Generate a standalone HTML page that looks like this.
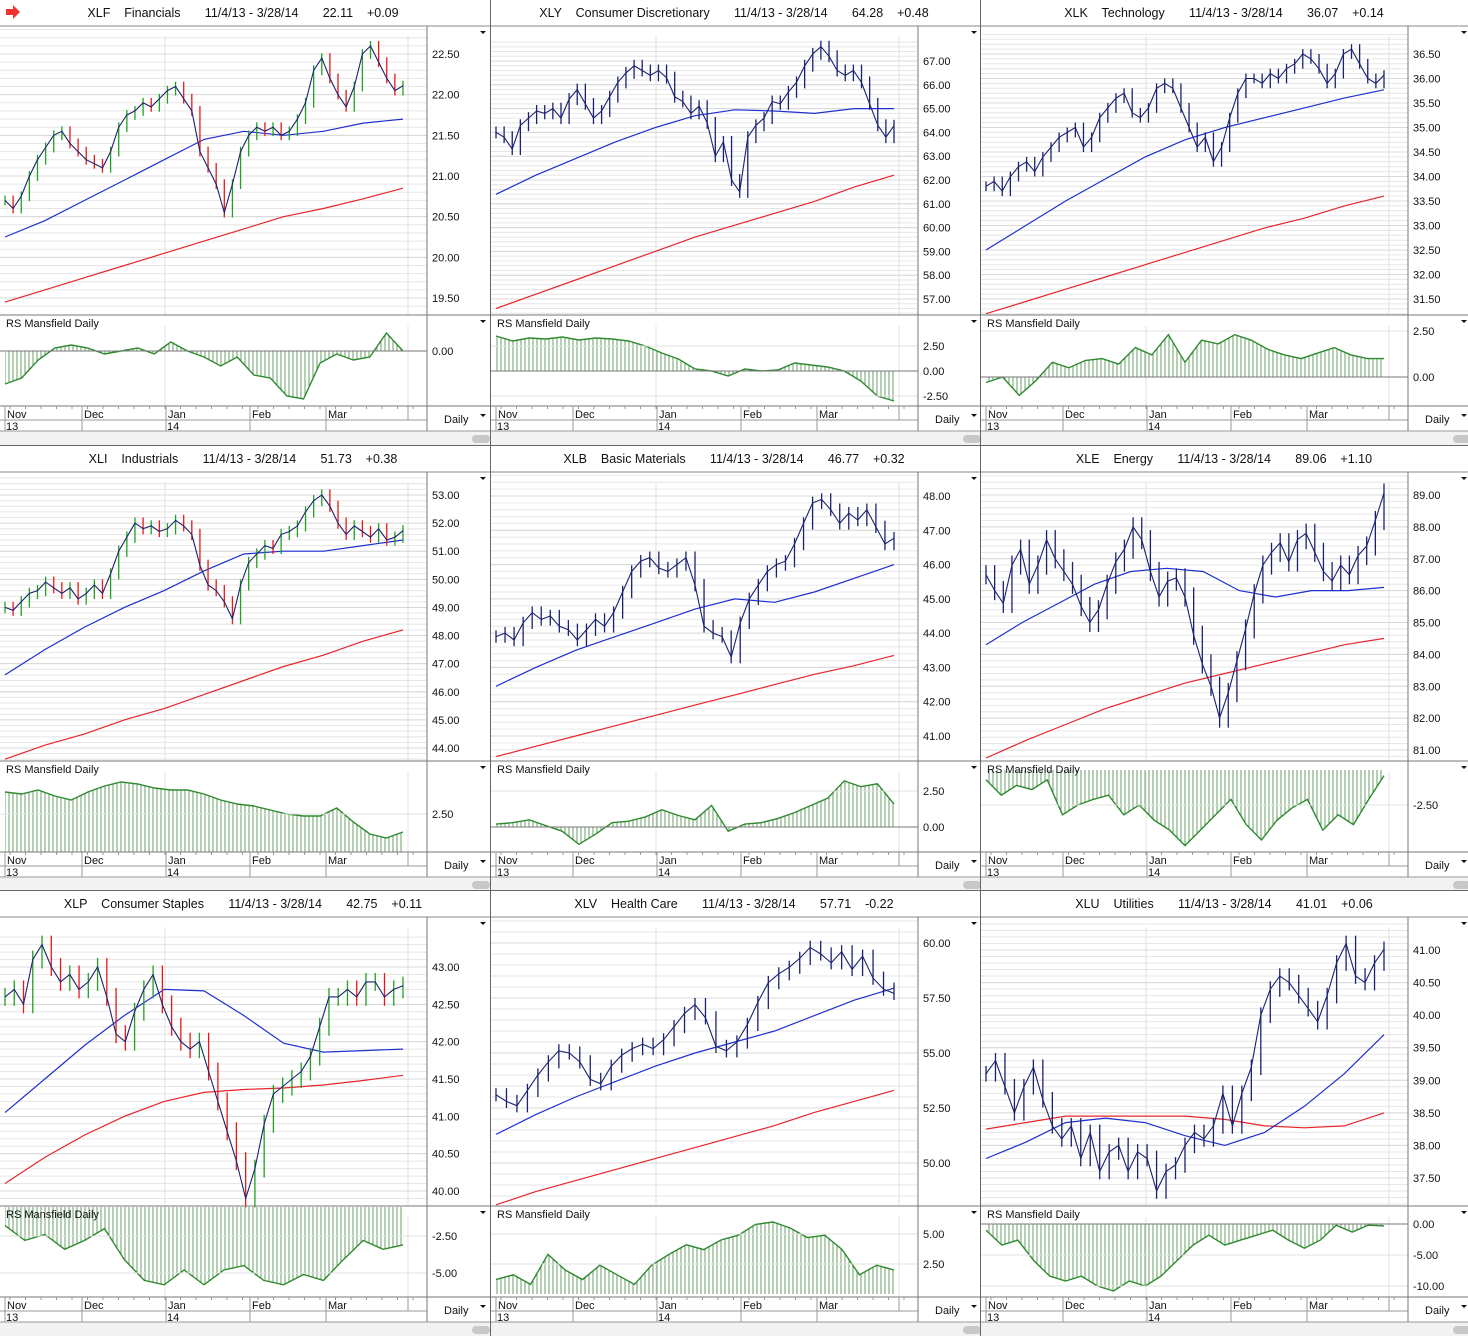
<!DOCTYPE html>
<html><head><meta charset="utf-8">
<style>
html,body{margin:0;padding:0;background:#fff;}
svg{display:block;font-family:"Liberation Sans",sans-serif;}
.ttl{white-space:pre;}
</style></head>
<body>
<svg id="chart" width="1468" height="1336" xmlns="http://www.w3.org/2000/svg">
<defs>
<pattern id="vh" width="4" height="10" patternUnits="userSpaceOnUse"><line x1="1" y1="0" x2="1" y2="10" stroke="#6a9f6a" stroke-width="1"/></pattern>
</defs>
</svg>
<script>
// ---- data ----
const months = ["Nov","Dec","Jan","Feb","Mar"];
const years = ["13","14"];
const titles = [
 "XLF    Financials       11/4/13 - 3/28/14       22.11    +0.09",
 "XLY    Consumer Discretionary       11/4/13 - 3/28/14       64.28    +0.48",
 "XLK    Technology       11/4/13 - 3/28/14       36.07    +0.14",
 "XLI    Industrials       11/4/13 - 3/28/14       51.73    +0.38",
 "XLB    Basic Materials       11/4/13 - 3/28/14       46.77    +0.32",
 "XLE    Energy       11/4/13 - 3/28/14       89.06    +1.10",
 "XLP    Consumer Staples       11/4/13 - 3/28/14       42.75    +0.11",
 "XLV    Health Care       11/4/13 - 3/28/14       57.71    -0.22",
 "XLU    Utilities       11/4/13 - 3/28/14       41.01    +0.06"];

const xlfClose=[20.7,20.6,20.75,21.0,21.2,21.35,21.5,21.55,21.4,21.3,21.2,21.15,21.1,21.3,21.6,21.75,21.8,21.9,21.85,21.95,22.05,22.1,21.95,21.8,21.3,21.1,20.9,20.55,20.9,21.3,21.5,21.6,21.55,21.6,21.5,21.55,21.7,21.9,22.3,22.45,22.2,22.0,21.85,22.1,22.5,22.6,22.4,22.2,22.05,22.11];
const xlfMa50=[20.25,20.45,20.7,20.95,21.2,21.45,21.55,21.5,21.55,21.65,21.7];
const xlfMa200=[19.45,19.6,19.75,19.9,20.05,20.2,20.35,20.5,20.6,20.72,20.85];
const xlfRs=[-1.1,-0.9,-0.3,0.1,0.2,0.1,-0.1,0.0,0.1,-0.1,0.3,0.0,-0.2,-0.5,-0.2,-0.8,-0.9,-1.5,-1.6,-0.4,-0.1,-0.3,-0.2,0.6,0.0];
const xlfTicks=["22.50","22.00","21.50","21.00","20.50","20.00","19.50"];
const xlfRsTicks=["0.00"];

const xlyClose=[64.0,63.8,63.3,64.3,64.6,64.9,64.8,65.0,64.6,65.4,65.8,65.2,64.6,64.9,65.5,66.1,66.5,66.8,66.6,66.4,66.6,66.3,65.5,65.3,64.8,65.1,64.4,63.0,63.6,62.0,61.5,63.8,64.3,64.6,65.3,65.2,65.7,66.1,66.8,67.3,67.6,67.2,66.6,66.4,66.6,66.1,65.2,64.3,63.8,64.28];
const xlyMa50=[61.4,62.2,62.9,63.6,64.2,64.7,64.95,64.9,64.8,65.0,65.0];
const xlyMa200=[56.6,57.2,57.8,58.4,59.0,59.6,60.1,60.6,61.1,61.7,62.2];
const xlyRs=[3.5,3.0,3.3,3.2,3.4,3.1,3.3,3.2,3.0,2.5,1.8,1.2,0.2,0.0,-0.5,0.2,0.0,0.1,0.8,0.6,0.4,0.0,-1.0,-2.5,-3.0];
const xlyTicks=["67.00","66.00","65.00","64.00","63.00","62.00","61.00","60.00","59.00","58.00","57.00"];
const xlyRsTicks=["2.50","0.00","-2.50"];

const xlkClose=[33.8,33.9,33.7,34.0,34.2,34.3,34.1,34.4,34.6,34.8,34.9,35.0,34.6,34.8,35.2,35.4,35.6,35.7,35.3,35.2,35.4,35.8,35.9,35.8,35.4,35.0,34.6,34.8,34.3,34.6,35.2,35.7,36.0,36.0,35.9,36.1,36.0,36.2,36.3,36.5,36.4,36.2,35.9,36.1,36.5,36.6,36.3,36.0,35.9,36.07];
const xlkMa50=[32.5,33.0,33.5,33.95,34.4,34.75,35.0,35.2,35.4,35.6,35.77];
const xlkMa200=[31.2,31.45,31.7,31.95,32.2,32.45,32.7,32.95,33.15,33.4,33.6];
const xlkRs=[-0.3,0.0,-1.0,-0.2,0.8,0.5,0.9,1.0,0.7,1.6,1.2,2.3,0.8,2.0,1.8,2.3,2.0,1.5,1.2,1.0,1.3,1.6,1.2,1.0,1.0];
const xlkTicks=["36.50","36.00","35.50","35.00","34.50","34.00","33.50","33.00","32.50","32.00","31.50"];
const xlkRsTicks=["2.50","0.00"];

const xliClose=[49.0,48.9,49.2,49.5,49.6,49.9,49.7,49.5,49.7,49.3,49.5,49.8,49.5,50.2,51.0,51.5,52.0,51.8,51.9,51.7,51.8,52.1,51.9,51.6,50.5,49.8,49.6,49.2,48.6,49.8,50.6,50.9,51.2,51.1,51.6,51.7,51.9,52.4,52.8,53.0,52.6,52.0,51.6,51.9,51.7,51.5,51.8,51.4,51.5,51.73];
const xliMa50=[46.6,47.5,48.3,49.0,49.6,50.3,50.9,51.0,51.0,51.2,51.4];
const xliMa200=[43.6,44.1,44.5,45.0,45.4,45.9,46.4,46.9,47.3,47.8,48.2];
const xliRs=[3.6,3.5,3.7,3.4,3.2,3.6,3.9,4.1,4.0,3.8,3.7,3.7,3.5,3.2,3.0,2.9,2.7,2.5,2.4,2.4,2.8,2.1,1.5,1.3,1.6];
const xliTicks=["53.00","52.00","51.00","50.00","49.00","48.00","47.00","46.00","45.00","44.00"];
const xliRsTicks=["2.50"];

const xlbClose=[43.9,44.0,43.8,44.3,44.6,44.4,44.5,44.2,44.1,43.8,44.1,44.4,44.2,44.6,45.2,45.8,46.1,46.2,45.9,45.8,46.0,46.2,45.4,44.2,44.0,43.9,43.3,44.3,45.0,45.4,45.8,46.0,46.1,46.6,47.2,47.8,47.9,47.6,47.2,47.5,47.3,47.6,47.1,46.6,46.77];
const xlbMa50=[42.45,43.0,43.5,43.9,44.3,44.7,45.0,44.9,45.2,45.6,46.0];
const xlbMa200=[40.4,40.7,41.0,41.3,41.6,41.9,42.2,42.5,42.8,43.05,43.35];
const xlbRs=[0.2,0.3,0.5,0.1,-0.3,-1.2,-0.5,0.3,0.4,0.7,1.2,0.8,0.5,1.5,-0.3,0.2,0.3,0.6,1.0,1.5,2.0,3.2,2.8,3.0,1.6];
const xlbTicks=["48.00","47.00","46.00","45.00","44.00","43.00","42.00","41.00"];
const xlbRsTicks=["2.50","0.00"];

const xleClose=[86.5,86.0,85.6,86.8,87.3,86.2,86.8,87.6,87.0,86.6,86.2,85.5,85.0,85.4,86.2,86.9,87.3,88.0,87.6,86.6,85.8,86.3,86.4,85.8,84.6,83.7,83.0,82.0,82.8,83.8,84.8,85.9,86.8,87.2,87.5,86.9,87.6,87.8,87.2,86.6,86.3,86.8,86.5,87.1,87.4,88.2,89.06];
const xleMa50=[84.3,85.0,85.6,86.2,86.6,86.7,86.6,86.0,85.8,86.0,86.0,86.1];
const xleMa200=[80.75,81.3,81.8,82.3,82.7,83.1,83.4,83.7,84.0,84.3,84.5];
const xleRs=[-0.7,-1.8,-1.1,-1.4,-0.7,-3.2,-2.5,-2.1,-1.8,-3.2,-2.5,-3.6,-4.3,-5.4,-4.3,-3.2,-2.1,-3.9,-5.0,-3.6,-2.7,-2.1,-4.3,-3.2,-3.9,-2.1,-0.4];
const xleTicks=["89.00","88.00","87.00","86.00","85.00","84.00","83.00","82.00","81.00"];
const xleRsTicks=["-2.50"];

const xlpClose=[42.6,42.7,42.5,43.1,43.3,43.0,42.8,42.9,42.7,42.8,43.0,42.6,42.1,42.0,42.4,42.7,42.9,42.5,42.2,42.0,41.9,42.0,41.6,41.2,40.8,40.4,39.9,40.3,40.9,41.3,41.4,41.5,41.6,41.8,42.2,42.6,42.6,42.7,42.6,42.8,42.8,42.6,42.7,42.75];
const xlpMa50=[41.05,41.5,41.95,42.35,42.7,42.68,42.35,41.98,41.86,41.88,41.9];
const xlpMa200=[40.1,40.45,40.75,41.0,41.2,41.32,41.36,41.38,41.42,41.48,41.55];
const xlpRs=[-1.8,-2.8,-2.4,-3.4,-2.8,-2.0,-4.1,-5.5,-5.8,-4.8,-5.8,-4.8,-4.5,-5.5,-5.8,-5.1,-5.5,-4.1,-2.8,-3.4,-3.1];
const xlpTicks=["43.00","42.50","42.00","41.50","41.00","40.50","40.00"];
const xlpRsTicks=["-2.50","-5.00"];

const xlvClose=[53.1,52.8,52.6,53.3,54.0,54.6,55.1,55.0,54.6,53.8,53.6,54.4,54.9,55.2,55.4,55.2,55.6,56.2,56.8,57.2,56.6,55.3,55.1,55.5,56.3,57.3,58.2,58.6,58.9,59.3,59.8,59.5,59.1,59.6,58.8,59.4,58.4,57.9,57.71];
const xlvMa50=[51.3,52.2,53.0,53.7,54.4,55.0,55.5,56.0,56.7,57.4,57.95];
const xlvMa200=[48.1,48.7,49.2,49.7,50.2,50.7,51.2,51.7,52.3,52.8,53.3];
const xlvRs=[1.2,1.6,0.8,3.3,2.0,1.2,2.4,1.6,0.8,2.4,3.3,4.1,3.7,4.5,4.9,5.8,6.0,5.5,4.7,4.9,3.7,1.6,2.4,2.0];
const xlvTicks=["60.00","57.50","55.00","52.50","50.00"];
const xlvRsTicks=["5.00","2.50"];

const xluClose=[39.1,39.3,38.9,38.5,38.9,39.2,38.7,38.3,38.1,38.3,37.8,38.2,37.6,37.9,38.0,37.6,37.9,37.8,37.3,37.6,37.7,38.0,38.2,38.1,38.3,38.8,38.3,38.8,39.2,40.0,40.4,40.6,40.5,40.3,40.1,39.9,40.3,40.8,41.1,40.6,40.5,40.8,41.01];
const xluMa50=[37.8,38.05,38.35,38.42,38.35,38.15,38.0,38.2,38.6,39.1,39.7];
const xluMa200=[38.25,38.35,38.45,38.45,38.45,38.45,38.4,38.3,38.27,38.3,38.5];
const xluRs=[-1.0,-3.4,-2.6,-5.9,-8.4,-9.2,-8.4,-10.0,-10.8,-9.2,-10.0,-8.4,-5.9,-3.4,-1.8,-3.4,-2.6,-1.8,-1.0,-2.6,-3.9,-2.6,-0.2,-1.3,-0.2,-0.3];
const xluTicks=["41.00","40.50","40.00","39.50","39.00","38.50","38.00","37.50"];
const xluRsTicks=["0.00","-5.00","-10.00"];

// ---- layout config (scale anchors: value, pixel y) ----
const cfg=[
 {id:"xlf",c:0,r:0,close:xlfClose,ma50:xlfMa50,ma200:xlfMa200,rs:xlfRs,ticks:xlfTicks,rt:xlfRsTicks,pa:[22.5,54,19.5,298],ra:[0,351,-1,381],col:true,sp:0.06},
 {id:"xly",c:1,r:0,close:xlyClose,ma50:xlyMa50,ma200:xlyMa200,rs:xlyRs,ticks:xlyTicks,rt:xlyRsTicks,pa:[67,61,57,299],ra:[0,371,-2.5,396],col:false,sp:0.25},
 {id:"xlk",c:2,r:0,close:xlkClose,ma50:xlkMa50,ma200:xlkMa200,rs:xlkRs,ticks:xlkTicks,rt:xlkRsTicks,pa:[36.5,54,31.5,299],ra:[0,377,2.5,331],col:false,sp:0.1},
 {id:"xli",c:0,r:1,close:xliClose,ma50:xliMa50,ma200:xliMa200,rs:xliRs,ticks:xliTicks,rt:xliRsTicks,pa:[53,495,44,748],ra:[2.5,814,3.5,794],col:true,sp:0.2},
 {id:"xlb",c:1,r:1,close:xlbClose,ma50:xlbMa50,ma200:xlbMa200,rs:xlbRs,ticks:xlbTicks,rt:xlbRsTicks,pa:[48,496,41,736],ra:[0,827,2.5,791],col:false,sp:0.18},
 {id:"xle",c:2,r:1,close:xleClose,ma50:xleMa50,ma200:xleMa200,rs:xleRs,ticks:xleTicks,rt:xleRsTicks,pa:[89,495,81,750],ra:[0,770,-2.5,805],col:false,sp:0.3},
 {id:"xlp",c:0,r:2,close:xlpClose,ma50:xlpMa50,ma200:xlpMa200,rs:xlpRs,ticks:xlpTicks,rt:xlpRsTicks,pa:[43,967,40,1191],ra:[-2.5,1236,-5,1273],col:true,sp:0.12},
 {id:"xlv",c:1,r:2,close:xlvClose,ma50:xlvMa50,ma200:xlvMa200,rs:xlvRs,ticks:xlvTicks,rt:xlvRsTicks,pa:[60,943,50,1163],ra:[5,1234,2.5,1264],col:false,sp:0.3},
 {id:"xlu",c:2,r:2,close:xluClose,ma50:xluMa50,ma200:xluMa200,rs:xluRs,ticks:xluTicks,rt:xluRsTicks,pa:[41,950,37.5,1178],ra:[0,1224,-5,1255],col:false,sp:0.12}
];
const colX=[0,491,981], rowY=[0,446,891];
const NS="http://www.w3.org/2000/svg";
const svg=document.getElementById("chart");
function mk(tag,at,parent){const e=document.createElementNS(NS,tag);for(const k in at)e.setAttribute(k,at[k]);(parent||svg).appendChild(e);return e;}
function lin(v1,p1,v2,p2){return v=>p1+(v-v1)*(p2-p1)/(v2-v1);}
function fmt(a){return a.map(p=>p[0].toFixed(1)+","+p[1].toFixed(1)).join(" ");}

cfg.forEach((P,pi)=>{
 const x0=colX[P.c], y0=rowY[P.r];
 const g=mk("g",{});
 
 
 const pTop=y0+26,pBot=y0+315,rTop=y0+316,rBot=y0+406,dBot=y0+431;
 const plotR=x0+427, dx0=x0+5, dx1=x0+403;
 const xs=(i,n)=>dx0+i*(dx1-dx0)/(n-1);
 const py=lin(P.pa[0],P.pa[1],P.pa[2],P.pa[3]);
 const ry=lin(P.ra[0],P.ra[1],P.ra[2],P.ra[3]);
 // title
 const t=mk("text",{x:x0+243,y:y0+17,"text-anchor":"middle","font-size":"12.5","fill":"#111","class":"ttl"},g);
 t.textContent=titles[pi];
 
 
 // grid
 const stepV=parseFloat(P.ticks[0])-parseFloat(P.ticks[1]);
 const lastV=parseFloat(P.ticks[P.ticks.length-1]);
 for(let v=lastV-stepV;v<=parseFloat(P.ticks[0])+stepV;v+=stepV/5){
   const y=py(v); if(y<pTop+2||y>pBot-1)continue;
   mk("line",{x1:x0,x2:plotR,y1:y,y2:y,stroke:"#e6e6e6","stroke-width":1},g);
 }
 P.ticks.forEach(s=>{const y=py(parseFloat(s));
   mk("line",{x1:x0,x2:plotR,y1:y,y2:y,stroke:"#d8d8d8","stroke-width":1},g);
   const tx=mk("text",{x:x0+432,y:y+4,"font-size":"11",fill:"#111"},g);
   tx.textContent=s;
   
   
 });
 // vertical grid
 [x0+165,x0+408].forEach(x=>{mk("line",{x1:x,x2:x,y1:pTop+10,y2:pBot,stroke:"#e0e0e0"},g);mk("line",{x1:x,x2:x,y1:rTop+10,y2:rBot,stroke:"#e0e0e0"},g);});
 // MAs
 const m200=mk("polyline",{points:fmt(P.ma200.map((v,i)=>[xs(i,P.ma200.length),py(v)])),fill:"none",stroke:"#e8252a","stroke-width":1.2},g);
 
 
 const m50=mk("polyline",{points:fmt(P.ma50.map((v,i)=>[xs(i,P.ma50.length),py(v)])),fill:"none",stroke:"#1f2fd0","stroke-width":1.2},g);
 
 
 // price bars
 const n=P.close.length;
 P.close.forEach((c,i)=>{
   const prev=i?P.close[i-1]:c;
   const hi=Math.max(c,prev)+P.sp, lo=Math.min(c,prev)-P.sp;
   const col=P.col?(c>=prev?"#22a022":"#e81818"):"#1a2270";
   const b=mk("line",{x1:xs(i,n),x2:xs(i,n),y1:py(hi),y2:py(lo),stroke:col,"stroke-width":1.3},g);
   
   
 });
 const cl=mk("polyline",{points:fmt(P.close.map((v,i)=>[xs(i,n),py(v)])),fill:"none",stroke:"#1a2270","stroke-width":1.1},g);
 
 
 // RS
 const cp=mk("clipPath",{id:"rc"+pi},g);
 mk("rect",{x:x0,y:rTop,width:427,height:rBot-rTop},cp);
 const rg=mk("g",{"clip-path":"url(#rc"+pi+")"},g);
 P.rt.forEach(s=>{const y=ry(parseFloat(s));
   mk("line",{x1:x0,x2:plotR,y1:y,y2:y,stroke:s==="0.00"?"#777":"#e0e0e0"},g);
   const tx=mk("text",{x:x0+432,y:y+4,"font-size":"11",fill:"#111"},g);
   tx.textContent=s;
   
   
 });
 const nr=P.rs.length;
 const rp=P.rs.map((v,i)=>[xs(i,nr),ry(v)]);
 const z=ry(0);
 const area=mk("polygon",{points:fmt([[dx0,z],...rp,[dx1,z]]),fill:"url(#vh)",stroke:"none"},rg);
 
 
 const rl=mk("polyline",{points:fmt(rp),fill:"none",stroke:"#2f8a2f","stroke-width":1.4},rg);
 
 
 const rlab=mk("text",{x:x0+6,y:y0+327,"font-size":"11",fill:"#111"},g);
 rlab.textContent="RS Mansfield Daily";
 
 
 // frame lines
 mk("line",{x1:x0,x2:x0+490,y1:pTop,y2:pTop,stroke:"#888"},g);
 mk("line",{x1:x0,x2:x0+490,y1:pBot,y2:pBot,stroke:"#777"},g);
 mk("line",{x1:x0,x2:x0+490,y1:rBot,y2:rBot,stroke:"#777"},g);
 mk("line",{x1:x0,x2:plotR,y1:y0+420,y2:y0+420,stroke:"#999"},g);
 mk("line",{x1:plotR,x2:plotR,y1:pTop,y2:dBot,stroke:"#777"},g);
 mk("rect",{x:x0,y:dBot,width:490,height:y0+445-dBot,fill:"#f2f2f2"},g);
 mk("line",{x1:x0,x2:x0+490,y1:dBot,y2:dBot,stroke:"#999"},g);
 const pill=mk("rect",{x:x0+472,y:y0+435,width:18,height:8,rx:4,fill:"#c8c8c8"},g);
 
 
 // date axis
 const mx=[5,82,166,250,326];
 months.forEach((m,k)=>{
   const x=x0+mx[k];
   mk("line",{x1:x,x2:x,y1:rBot,y2:dBot,stroke:"#999"},g);
   const tx=mk("text",{x:x+2,y:y0+418,"font-size":"11",fill:"#111"},g);
   tx.textContent=m;
   
   
 });
 for(let x=x0+10;x<plotR-10;x+=15.5) mk("line",{x1:x,x2:x,y1:rBot,y2:rBot+3,stroke:"#999"},g);
 [[5,0],[166,1]].forEach(([o,k])=>{
   const tx=mk("text",{x:x0+o+1,y:y0+430,"font-size":"11",fill:"#111"},g);
   tx.textContent=years[k];
   
   
 });
 mk("line",{x1:x0+408,x2:x0+408,y1:rBot,y2:y0+420,stroke:"#999"},g);
 const dl=mk("text",{x:x0+444,y:y0+423,"font-size":"11",fill:"#111"},g);
 dl.textContent="Daily";
 
 
 [pTop+5,rTop+4,y0+414].forEach(y=>{
   const a=mk("path",{d:`M${x0+480},${y} l6,0 l-3,3 z`,fill:"#111"},g);
   
   
 });
});
// global separators
[445,890].forEach(y=>mk("line",{x1:0,x2:1468,y1:y+0.5,y2:y+0.5,stroke:"#666"}));
[490,980].forEach(x=>mk("line",{x1:x+0.5,x2:x+0.5,y1:0,y2:1336,stroke:"#666"}));
const arrow=mk("path",{d:"M6,9 h7 v-4 l7,7 l-7,7 v-4 h-7 z",fill:"#e33"});


</script>
</body></html>
